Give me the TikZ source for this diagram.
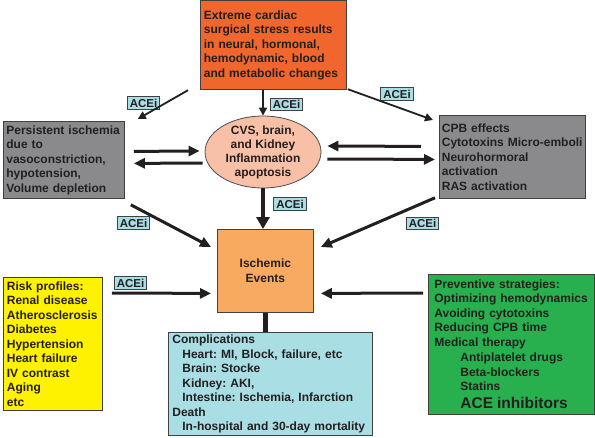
\documentclass[tikz,border=0pt]{standalone}
\usepackage{fontspec}
\setmainfont{Liberation Sans}
\usetikzlibrary{arrows.meta,shapes.geometric}
\definecolor{cTop}{RGB}{240,102,44}
\definecolor{cGray}{RGB}{138,138,140}
\definecolor{cEll}{RGB}{249,192,168}
\definecolor{cIsch}{RGB}{248,170,96}
\definecolor{cCyan}{RGB}{168,222,228}
\definecolor{cYel}{RGB}{255,242,0}
\definecolor{cGreen}{RGB}{40,176,78}
\definecolor{cText}{RGB}{35,31,32}
\hyphenpenalty=10000
\exhyphenpenalty=10000
\frenchspacing
\begin{document}
\begin{tikzpicture}[x=1pt,y=-1pt,
  every node/.style={text=cText},
  boxst/.style={draw=black!75, line width=0.8pt, anchor=north west, inner ysep=0pt, align=left,
    font=\bfseries\fontsize{12}{14.5}\selectfont},
  tag/.style={draw=black!75, fill=cCyan, line width=0.6pt, inner xsep=2.5pt, inner ysep=2pt,
    font=\bfseries\fontsize{11.5}{12}\selectfont},
  arrA/.style={draw=cText, line width=1.8pt, -{Triangle[length=8pt,width=8pt]}},
  arrB/.style={draw=cText, line width=3pt, -{Triangle[length=11pt,width=10pt]}},
  arrC/.style={draw=cText, line width=4.5pt, -{Triangle[length=12pt,width=13pt]}},
  linkC/.style={draw=cText, line width=4.5pt},
]
\useasboundingbox (0,0) rectangle (595,437);

% boxes
\node[boxst, fill=cTop, minimum height=89pt, text width=139pt, inner xsep=3.5pt] (T) at (200,0.4)
  {Extreme cardiac\\surgical stress results\\in neural, hormonal,\\hemodynamic, blood\\and metabolic changes};

\node[ellipse, draw=black!70, line width=0.8pt, fill=cEll, minimum width=116pt, minimum height=72pt,
  inner xsep=0pt, inner ysep=-3pt, align=center, font=\bfseries\fontsize{12}{14}\selectfont] (E) at (263,152)
  {CVS, brain,\\and Kidney\\Inflammation\\apoptosis};

\node[boxst, fill=cGray, minimum height=77pt, text width=115pt, inner xsep=3pt] (L) at (3,121)
  {Persistent ischemia\\due to\\vasoconstriction,\\hypotension,\\Volume depletion};

\node[boxst, fill=cGray, minimum height=83pt, text width=141pt, inner xsep=2.5pt] (R) at (439,115)
  {CPB effects\\Cytotoxins Micro-emboli\\Neurohormoral\\activation\\RAS activation};

\node[boxst, fill=cIsch, minimum width=96pt, minimum height=83pt, align=center] (I) at (217,229)
  {Ischemic\\Events};

\node[boxst, fill=cCyan, minimum height=103pt, text width=196pt, inner xsep=4pt] (C) at (168,332)
  {Complications\\
   \hspace*{10pt}Heart: MI, Block, failure, etc\\
   \hspace*{10pt}Brain: Stocke\\
   \hspace*{10pt}Kidney: AKI,\\
   \hspace*{10pt}Intestine: Ischemia, Infarction\\
   Death\\
   \hspace*{10pt}In-hospital and 30-day mortality};

\node[boxst, fill=cYel, minimum height=133pt, text width=92pt, inner xsep=3.5pt] (Y) at (3,277)
  {Risk profiles:\\Renal disease\\Atherosclerosis\\Diabetes\\Hypertension\\Heart failure\\IV contrast\\Aging\\etc};

\node[boxst, fill=cGreen, minimum height=140pt, text width=154pt, inner xsep=6pt] (G) at (428,274)
  {Preventive strategies:\\Optimizing hemodynamics\\Avoiding cytotoxins\\Reducing CPB time\\Medical therapy\\[1pt]
   \hspace*{26pt}Antiplatelet drugs\\
   \hspace*{26pt}Beta-blockers\\
   \hspace*{26pt}Statins\\[3.5pt]
   \hspace*{26pt}{\fontsize{15.5}{18}\selectfont ACE inhibitors}};

% ACEi tags
\node[tag] (a1) at (286.5,104.5) {ACEi};
\node[tag] (a2) at (143.5,103) {ACEi};
\node[tag] (a3) at (397,94) {ACEi};
\node[tag] (a4) at (290,204) {ACEi};
\node[tag] (a5) at (133.5,223) {ACEi};
\node[tag] (a6) at (422.5,223.5) {ACEi};
\node[tag] (a7) at (130.5,283) {ACEi};

% connectors
\draw[arrA] ([xshift=-12pt]T.south west) -- ([xshift=13pt,yshift=2pt]L.north east);
\draw[arrA] ([xshift=1pt,yshift=1pt]T.south east) -- ([xshift=-6pt,yshift=-5pt]R.north west);
\draw[arrA] (E.north |- T.south) -- (E.north);
\draw[arrC] (E.south) -- (E.south |- I.north);

\draw[arrB] ([xshift=9pt,yshift=8.5pt]L.east) -- ([xshift=-5pt,yshift=1pt]E.west);
\draw[arrB] ([xshift=-2pt,yshift=-11pt]E.west) -- ([xshift=9pt,yshift=-3.5pt]L.east);
\draw[arrB] ([xshift=-18pt,yshift=10.5pt]R.west) -- ([xshift=6pt,yshift=6pt]E.east);
\draw[arrB] ([xshift=6pt,yshift=-7pt]E.east) -- ([xshift=-4pt,yshift=-2.5pt]R.west);

\draw[arrB] ([xshift=6pt,yshift=-6pt]L.south east) -- ([xshift=-6pt,yshift=-18pt]I.north west);
\draw[arrB] ([xshift=-4pt,yshift=1pt]R.south west) -- ([xshift=7pt,yshift=-18pt]I.north east);
\draw[arrB] ([xshift=9pt,yshift=-16pt]Y.north east) -- ([xshift=-6pt,yshift=-22.5pt]I.west);
\draw[arrB] ([xshift=-5pt,yshift=-19pt]G.north west) -- ([xshift=7pt,yshift=-22.5pt]I.east);

\draw[linkC] (I.south) -- (I.south |- C.north);
\end{tikzpicture}
\end{document}
